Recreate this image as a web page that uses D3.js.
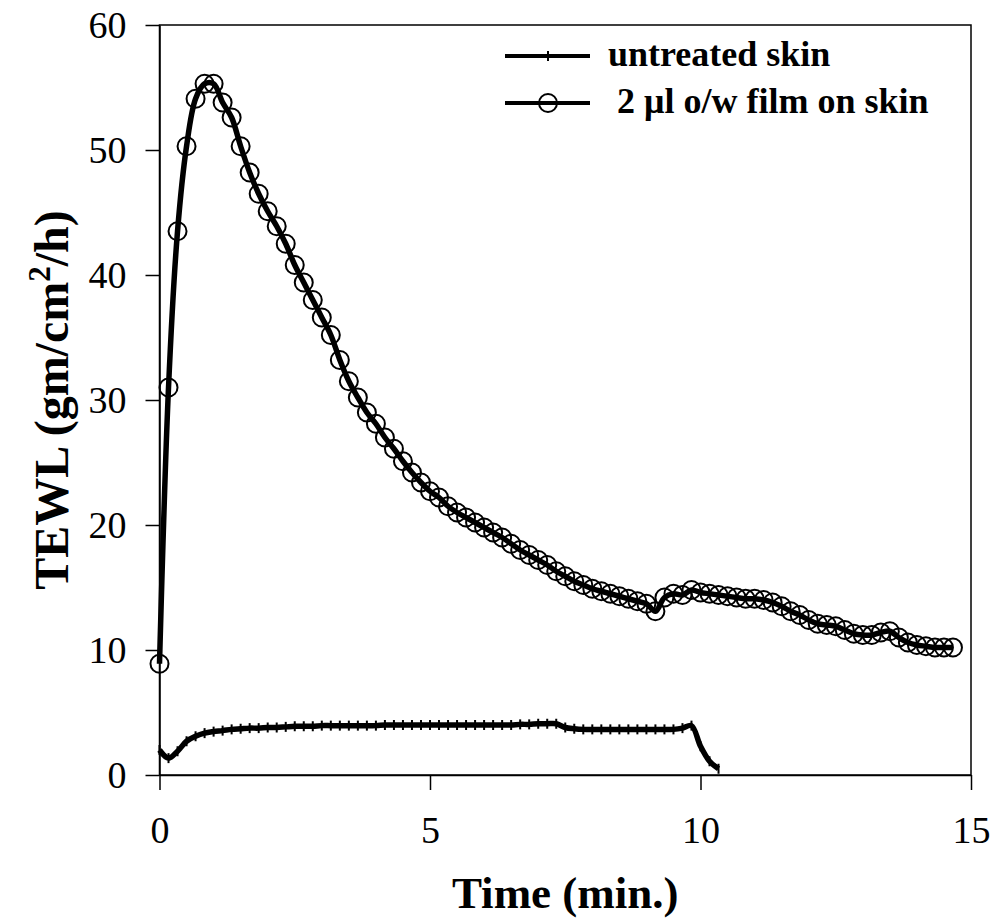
<!DOCTYPE html>
<html>
<head>
<meta charset="utf-8">
<script src="https://cdn.jsdelivr.net/npm/d3@7"></script>
<style>
  body { margin: 0; background: #fff; }
  text { font-family: "Liberation Serif", "Times New Roman", serif; }
</style>
</head>
<body>
<div id="chart"></div>
<script>
// sample times (s), readings every 10 s
var seconds = [0,10,20,30,40,50,60,70,80,90,100,110,120,130,140,150,160,170,180,190,
  200,210,220,230,240,250,260,270,280,290,300,310,320,330,340,350,360,370,380,390,
  400,410,420,430,440,450,460,470,480,490,500,510,520,530,540,550,560,570,580,590,
  600,610,620,630,640,650,660,670,680,690,700,710,720,730,740,750,760,770,780,790,
  800,810,820,830,840,850,860,870,880];

// 2 ul o/w film on skin
var filmTewl = [8.9, 31.0, 43.5, 50.3, 54.1, 55.3, 55.3, 53.8, 52.6, 50.3, 48.2, 46.5, 45.1, 43.9, 42.5, 40.8,
  39.4, 38.0, 36.6, 35.2, 33.2, 31.5, 30.2, 29.0, 28.1, 27.0, 26.1, 25.1, 24.2, 23.4, 22.7, 22.2,
  21.5, 21.0, 20.6, 20.2, 19.8, 19.4, 19.0, 18.5, 18.0, 17.6, 17.2, 16.8, 16.3, 15.9, 15.5, 15.2,
  14.9, 14.7, 14.5, 14.3, 14.1, 13.9, 13.7, 13.1, 14.2, 14.5, 14.4, 14.8, 14.6, 14.5, 14.4, 14.3,
  14.2, 14.1, 14.1, 14.0, 13.8, 13.5, 13.1, 12.8, 12.4, 12.1, 12.0, 11.9, 11.6, 11.3, 11.2, 11.2,
  11.4, 11.5, 11.0, 10.6, 10.4, 10.3, 10.2, 10.2, 10.2];

// untreated skin
var untreatedTewl = [2.0, 1.35, 1.9, 2.7, 3.1, 3.35, 3.47, 3.55, 3.65, 3.7,
  3.75, 3.75, 3.8, 3.8, 3.85, 3.9, 3.9, 3.9, 3.95, 3.95,
  3.95, 3.95, 3.95, 3.95, 3.95, 4.0, 4.0, 4.0, 4.0, 4.0,
  4.0, 4.0, 4.0, 4.0, 4.0, 4.0, 4.0, 4.0, 4.0, 4.0,
  4.05, 4.05, 4.1, 4.1, 4.1, 3.8, 3.7, 3.65, 3.65, 3.65,
  3.65, 3.65, 3.65, 3.65, 3.65, 3.65, 3.65, 3.65, 3.75, 3.95,
  2.3, 1.1, 0.5];

var xTicks = [0, 5, 10, 15];
var yTicks = [0, 10, 20, 30, 40, 50, 60];
var seriesNames = ['untreated skin', ' 2 \u03bcl o/w film on skin'];

var width = 993, height = 921;
var plot = { left: 159.5, right: 971, top: 25, bottom: 775 };

var svg = d3.select('#chart').append('svg')
  .attr('width', width)
  .attr('height', height);

var x = d3.scaleLinear().domain([0, 15]).range([plot.left, plot.right]);
var y = d3.scaleLinear().domain([0, 60]).range([plot.bottom, plot.top]);

function pts(vals) {
  return vals.map(function(v, i) { return { t: seconds[i] / 60, v: v }; });
}
var film = pts(filmTewl);
var untreated = pts(untreatedTewl);

// frame
svg.append('rect')
  .attr('x', plot.left).attr('y', plot.top)
  .attr('width', plot.right - plot.left).attr('height', plot.bottom - plot.top)
  .attr('fill', 'none').attr('stroke', '#000').attr('stroke-width', 1.5);

var yAxis = d3.axisLeft(y).tickValues(yTicks).tickSize(14).tickSizeOuter(0).tickPadding(19);
var xAxis = d3.axisBottom(x).tickValues(xTicks).tickSize(15).tickSizeOuter(0).tickPadding(26);

svg.append('g')
  .attr('transform', 'translate(' + plot.left + ',0)')
  .call(yAxis)
  .call(function(g) {
    g.selectAll('line, path').attr('stroke', '#000').attr('stroke-width', 1.5);
    g.selectAll('text').attr('fill', '#000').style('font-size', '38px')
      .style('font-family', '"Liberation Serif", serif');
  });

svg.append('g')
  .attr('transform', 'translate(0,' + plot.bottom + ')')
  .call(xAxis)
  .call(function(g) {
    g.selectAll('line, path').attr('stroke', '#000').attr('stroke-width', 1.5);
    g.selectAll('text').attr('fill', '#000').style('font-size', '38px')
      .style('font-family', '"Liberation Serif", serif');
  });

// axis titles
svg.append('text')
  .attr('x', (plot.left + plot.right) / 2)
  .attr('y', 908)
  .attr('text-anchor', 'middle')
  .style('font-size', '45px')
  .style('font-weight', 'bold')
  .text('Time (min.)');

var yt = svg.append('text')
  .attr('transform', 'translate(68,' + (plot.top + plot.bottom) / 2 + ') rotate(-90)')
  .attr('text-anchor', 'middle')
  .style('font-size', '48px')
  .style('font-weight', 'bold');
yt.append('tspan').text('TEWL (gm/cm');
yt.append('tspan').attr('dy', -18).style('font-size', '31px').text('2');
yt.append('tspan').attr('dy', 18).text('/h)');

var line = d3.line()
  .x(function(d) { return x(d.t); })
  .y(function(d) { return y(d.v); })
  .curve(d3.curveCatmullRom.alpha(0.5));

// untreated skin
svg.append('path')
  .attr('d', line(untreated))
  .attr('fill', 'none')
  .attr('stroke', '#000')
  .attr('stroke-width', 5.5);

svg.append('g')
  .selectAll('line')
  .data(untreated)
  .enter()
  .append('line')
  .attr('x1', function(d) { return x(d.t); })
  .attr('x2', function(d) { return x(d.t); })
  .attr('y1', function(d) { return y(d.v) - 5; })
  .attr('y2', function(d) { return y(d.v) + 5; })
  .attr('stroke', '#000')
  .attr('stroke-width', 2);

// film on skin
svg.append('path')
  .attr('d', line(film))
  .attr('fill', 'none')
  .attr('stroke', '#000')
  .attr('stroke-width', 5.5);

svg.append('g')
  .selectAll('circle')
  .data(film)
  .enter()
  .append('circle')
  .attr('cx', function(d) { return x(d.t); })
  .attr('cy', function(d) { return y(d.v); })
  .attr('r', 9)
  .attr('fill', 'none')
  .attr('stroke', '#000')
  .attr('stroke-width', 2);

// legend
var legend = svg.append('g');
var legY = [56, 103];
legend.selectAll('line.key')
  .data(legY)
  .enter()
  .append('line')
  .attr('class', 'key')
  .attr('x1', 505).attr('x2', 590)
  .attr('y1', function(d) { return d; })
  .attr('y2', function(d) { return d; })
  .attr('stroke', '#000')
  .attr('stroke-width', 4);
legend.append('line')
  .attr('x1', 548).attr('x2', 548)
  .attr('y1', legY[0] - 5).attr('y2', legY[0] + 5)
  .attr('stroke', '#000').attr('stroke-width', 2);
legend.append('circle')
  .attr('cx', 548).attr('cy', legY[1]).attr('r', 9)
  .attr('fill', 'none').attr('stroke', '#000').attr('stroke-width', 2);
legend.selectAll('text')
  .data(seriesNames)
  .enter()
  .append('text')
  .attr('x', 608)
  .attr('y', function(d, i) { return legY[i] + 10; })
  .style('font-size', '36px')
  .style('font-weight', 'bold')
  .style('white-space', 'pre')
  .attr('xml:space', 'preserve')
  .text(function(d) { return d; });
</script>
</body>
</html>
